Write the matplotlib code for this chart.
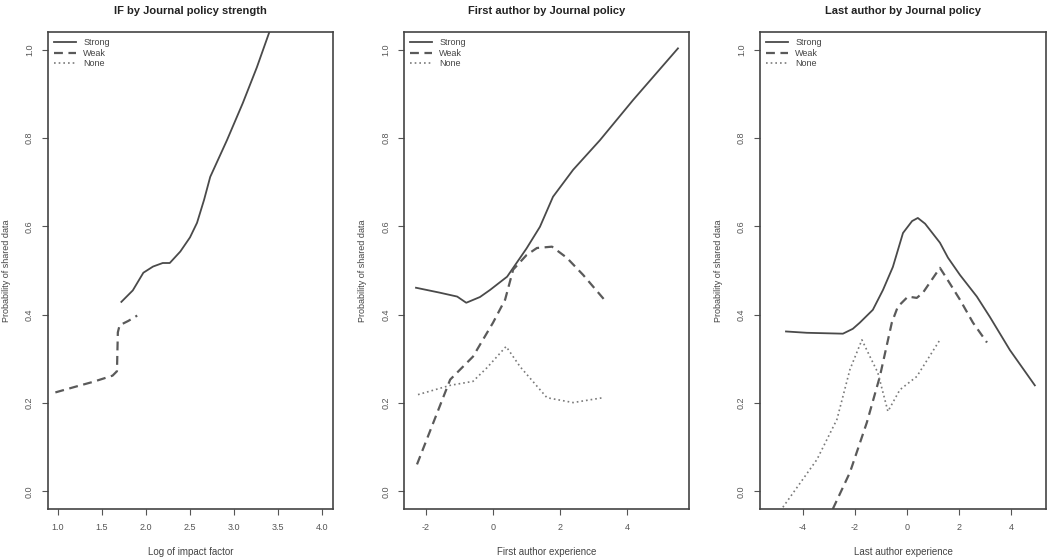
import numpy as np
import matplotlib
matplotlib.use("Agg")
import matplotlib.pyplot as plt

# =========================
# 1. DATA
# =========================
# Panel 1: IF by journal policy strength
if_strong_x = [1.72, 1.85, 1.97, 2.08, 2.19, 2.27, 2.39, 2.50, 2.58, 2.66, 2.73, 2.92, 3.10, 3.26, 3.42]
if_strong_y = [0.429, 0.455, 0.495, 0.509, 0.517, 0.517, 0.543, 0.575, 0.608, 0.66, 0.712, 0.795, 0.879, 0.96, 1.05]
if_weak_x = [0.97, 1.20, 1.40, 1.62, 1.67, 1.68, 1.70, 1.80, 1.90]
if_weak_y = [0.224, 0.237, 0.248, 0.262, 0.272, 0.36, 0.376, 0.386, 0.398]

# Panel 2: first author experience
fa_strong_x = [-2.30, -1.60, -1.07, -0.80, -0.39, -0.09, 0.30, 0.42, 1.00, 1.40, 1.79, 2.39, 3.19, 4.18, 5.52]
fa_strong_y = [0.461, 0.450, 0.441, 0.427, 0.440, 0.456, 0.479, 0.486, 0.550, 0.599, 0.667, 0.728, 0.795, 0.886, 1.003]
fa_weak_x = [-2.27, -1.28, -0.60, 0.00, 0.36, 0.60, 1.00, 1.31, 1.76, 2.20, 2.69, 3.40]
fa_weak_y = [0.061, 0.253, 0.305, 0.382, 0.434, 0.502, 0.535, 0.551, 0.554, 0.529, 0.490, 0.427]
fa_none_x = [-2.24, -1.28, -0.60, -0.18, 0.39, 0.81, 1.61, 2.39, 3.28]
fa_none_y = [0.219, 0.240, 0.249, 0.280, 0.328, 0.282, 0.212, 0.201, 0.212]

# Panel 3: last author experience
la_strong_x = [-4.65, -3.85, -2.46, -2.08, -1.81, -1.31, -0.92, -0.54, -0.15, 0.20, 0.42, 0.70, 1.27, 1.58, 2.04, 2.69, 3.19, 3.96, 4.92]
la_strong_y = [0.362, 0.359, 0.357, 0.368, 0.382, 0.411, 0.456, 0.508, 0.585, 0.612, 0.619, 0.606, 0.563, 0.529, 0.490, 0.441, 0.395, 0.320, 0.240]
la_weak_x = [-2.85, -2.19, -1.54, -1.04, -0.58, -0.35, 0.04, 0.38, 0.62, 1.27, 1.50, 2.04, 2.54, 3.08]
la_weak_y = [-0.04, 0.043, 0.156, 0.260, 0.382, 0.418, 0.441, 0.438, 0.450, 0.506, 0.485, 0.434, 0.382, 0.337]
la_none_x = [-4.77, -3.46, -2.69, -2.19, -1.73, -1.42, -1.12, -0.73, -0.27, 0.38, 1.27]
la_none_y = [-0.036, 0.072, 0.163, 0.276, 0.343, 0.305, 0.269, 0.181, 0.230, 0.260, 0.343]

titles = ["IF by Journal policy strength", "First author by Journal policy", "Last author by Journal policy"]
xlabels = ["Log of impact factor", "First author experience", "Last author experience"]
xticks = [[1.0, 1.5, 2.0, 2.5, 3.0, 3.5, 4.0], [-2, 0, 2, 4], [-4, -2, 0, 2, 4]]
xtick_labels = [["1.0", "1.5", "2.0", "2.5", "3.0", "3.5", "4.0"], ["-2", "0", "2", "4"], ["-4", "-2", "0", "2", "4"]]
xlims = [(0.886, 4.125), (-2.657, 5.85), (-5.65, 5.35)]
yticks = [0.0, 0.2, 0.4, 0.6, 0.8, 1.0]
ytick_labels = ["0.0", "0.2", "0.4", "0.6", "0.8", "1.0"]

panels = [
    [(if_strong_x, if_strong_y), (if_weak_x, if_weak_y), None],
    [(fa_strong_x, fa_strong_y), (fa_weak_x, fa_weak_y), (fa_none_x, fa_none_y)],
    [(la_strong_x, la_strong_y), (la_weak_x, la_weak_y), (la_none_x, la_none_y)],
]

# =========================
# 2. STYLE
# =========================
plt.rcParams["font.family"] = ["Liberation Sans", "DejaVu Sans"]
GRAY = "#555555"
styles = [
    dict(linestyle="-", linewidth=1.3, color="#4a4a4a"),
    dict(linestyle=(0, (4, 2.5)), linewidth=1.6, color="#5a5a5a"),
    dict(linestyle=(0, (1, 1.8)), linewidth=1.2, color="#7a7a7a"),
]
names = ["Strong", "Weak", "None"]

# =========================
# 3. PLOT
# =========================
fig = plt.figure(figsize=(10.5, 5.58), dpi=100)
lefts = [0.0457, 0.3848, 0.7238]
widths = [0.2714, 0.2714, 0.2724]

for i in range(3):
    ax = fig.add_axes([lefts[i], 0.0878, widths[i], 0.8548])
    for j, series in enumerate(panels[i]):
        if series is None:
            continue
        ax.plot(series[0], series[1], **styles[j])
    ax.set_xlim(*xlims[i])
    ax.set_ylim(-0.04, 1.04)
    ax.set_xticks(xticks[i])
    ax.set_xticklabels(xtick_labels[i])
    ax.set_yticks(yticks)
    ax.set_yticklabels(ytick_labels, rotation=90, va="center")
    ax.tick_params(direction="out", length=4, width=0.8, colors=GRAY, labelsize=6.5, pad=6)
    for sp in ax.spines.values():
        sp.set_color("#444444")
        sp.set_linewidth(1.2)
    ax.set_title(titles[i], fontsize=8, fontweight="bold", color="#222222", pad=13)
    ax.set_xlabel(xlabels[i], fontsize=7, color="#444444", labelpad=11)
    ax.set_ylabel("Probability of shared data", fontsize=6.5, color="#444444", labelpad=10)

    # legend with line handles
    handles = [plt.Line2D([], [], **styles[k]) for k in range(3)]
    ax.legend(handles, names, loc="upper left", frameon=False, fontsize=6.5,
              handlelength=2.4, handletextpad=0.8, labelspacing=0.15,
              borderaxespad=0.3, labelcolor="#444444")

fig.savefig("out.png", dpi=100)
